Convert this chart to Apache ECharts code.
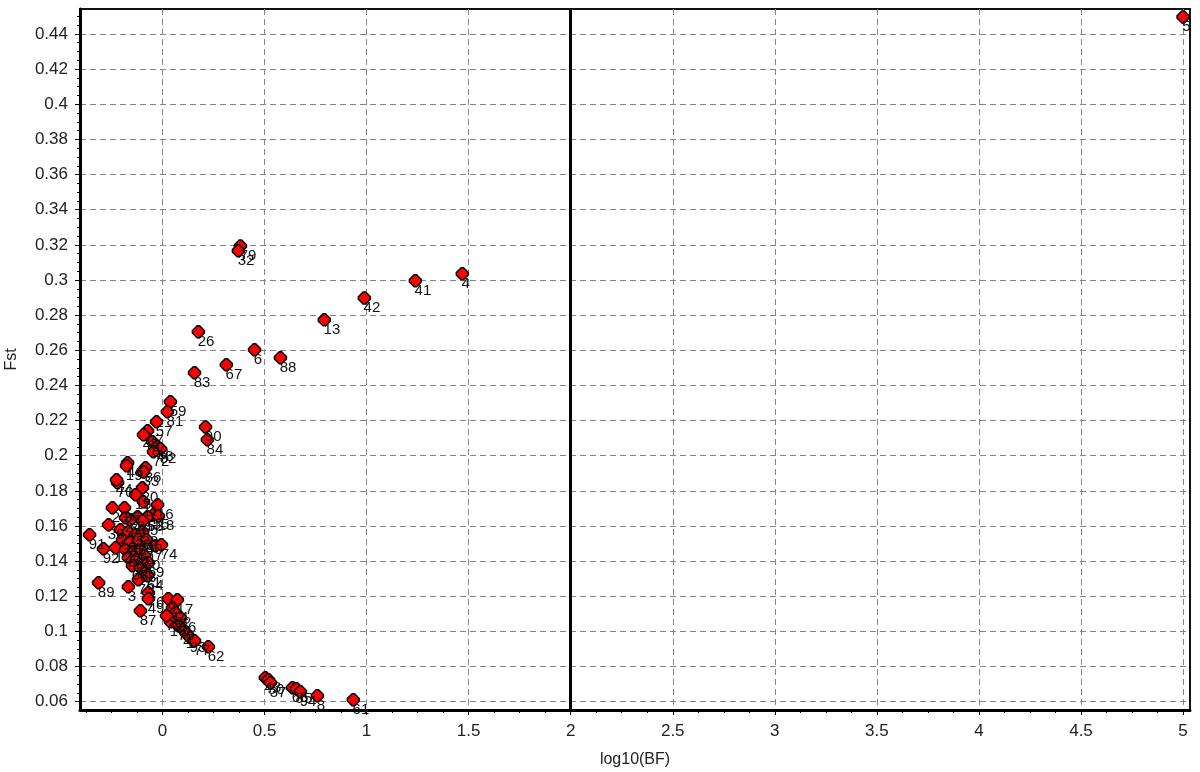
<!DOCTYPE html>
<html><head><meta charset="utf-8">
<script src="https://cdn.jsdelivr.net/npm/echarts@6/dist/echarts.min.js"></script>
<style>html,body{margin:0;padding:0;background:#fff}#c{width:1200px;height:772px}</style>
</head><body><div id="c"></div>
<script>
// Locus labels, log10(BF) and Fst
const locusLabels = ['5','79','32','4','41','42','13','26','6','88','67','83','59','81','57','27','45','80','48','82','72','90','84','46','19','86','33','70','44','20','15','11','23','36','16','55','31','53','58','18','38','24','65','91','92','12','7','74','21','25','28','29','34','35','39','40','47','50','51','52','54','60','63','68','69','71','64','73','3','89','76','49','87','9','17','14','22','10','56','78','2','1','93','77','62','43','30','37','66','85','94','8','61','75'];
const log10BF = [5.000,0.382,0.372,1.469,1.239,0.989,0.793,0.176,0.451,0.578,0.313,0.157,0.039,0.024,-0.029,-0.073,-0.093,-0.049,-0.024,-0.010,-0.044,0.211,0.220,-0.171,-0.176,-0.083,-0.093,-0.220,-0.225,-0.098,-0.132,-0.093,-0.245,-0.186,-0.024,-0.044,-0.122,-0.157,-0.073,-0.020,-0.264,-0.181,-0.098,-0.357,-0.289,-0.230,-0.034,-0.005,-0.206,-0.167,-0.132,-0.098,-0.196,-0.157,-0.118,-0.078,-0.181,-0.142,-0.108,-0.167,-0.127,-0.088,-0.147,-0.108,-0.069,-0.083,-0.073,-0.118,-0.167,-0.313,-0.069,-0.069,-0.108,0.029,0.073,0.049,0.064,0.039,0.088,0.078,0.103,0.118,0.137,0.157,0.225,0.504,0.519,0.529,0.637,0.656,0.676,0.759,0.935,0.020];
const fst = [0.4497,0.3194,0.3166,0.3035,0.2995,0.2898,0.2773,0.2705,0.2603,0.2557,0.2517,0.2472,0.2307,0.2250,0.2193,0.2142,0.2119,0.2079,0.2051,0.2039,0.2022,0.2164,0.2091,0.1960,0.1943,0.1931,0.1908,0.1846,0.1863,0.1817,0.1778,0.1738,0.1704,0.1704,0.1721,0.1664,0.1652,0.1635,0.1652,0.1658,0.1607,0.1647,0.1630,0.1550,0.1470,0.1476,0.1487,0.1493,0.1579,0.1567,0.1550,0.1567,0.1522,0.1510,0.1522,0.1522,0.1465,0.1453,0.1465,0.1419,0.1408,0.1431,0.1374,0.1362,0.1391,0.1334,0.1317,0.1294,0.1254,0.1277,0.1220,0.1186,0.1118,0.1186,0.1180,0.1135,0.1106,0.1055,0.1078,0.1032,0.1010,0.0987,0.0964,0.0947,0.0913,0.0737,0.0725,0.0708,0.0680,0.0674,0.0657,0.0634,0.0611,0.1089];
const xTickValues = [0,0.5,1,1.5,2,2.5,3,3.5,4,4.5,5];
const yTickValues = [0.06,0.08,0.1,0.12,0.14,0.16,0.18,0.2,0.22,0.24,0.26,0.28,0.3,0.32,0.34,0.36,0.38,0.4,0.42,0.44];
const thresholdBF = 2;

const xMinor = []; for (let k = -3; k <= 40; k++) xMinor.push(+(k * 0.125).toFixed(3));
const yMinor = []; for (let k = 11; k <= 90; k++) yMinor.push(+(k * 0.005).toFixed(3));

const FONT = "'Liberation Sans', Arial, sans-serif";
const xMin = -0.404, xMax = 5.034, yMin = 0.0553, yMax = 0.4542;

const chart = echarts.init(document.getElementById('c'), null, {renderer: 'canvas'});
const points = log10BF.map((x, i) => [x, fst[i]]);
chart.setOption({
  animation: false,
  backgroundColor: '#fff',
  grid: {left: 80, right: 10, top: 9, bottom: 62, containLabel: false, outerBoundsMode: 'none',
         show: true, borderColor: '#111', borderWidth: 2, backgroundColor: 'transparent'},
  xAxis: [{
    type: 'value', min: xMin, max: xMax, position: 'bottom',
    name: 'log10(BF)', nameLocation: 'middle', nameGap: 42,
    nameTextStyle: {color: '#222', fontSize: 16, fontFamily: FONT},
    axisLine: {show: true, onZero: false, lineStyle: {color: '#000', width: 3}},
    axisTick: {show: true, customValues: xTickValues, length: 5, lineStyle: {color: '#000', width: 1}},
    axisLabel: {customValues: xTickValues, color: '#222', fontSize: 17, fontFamily: FONT, margin: 13},
    splitLine: {show: true, lineStyle: {color: '#858585', width: 1, type: [6, 4]}}
  }, {
    type: 'value', min: xMin, max: xMax, position: 'bottom',
    axisLine: {show: false, onZero: false},
    axisTick: {show: true, customValues: xMinor, length: 3, lineStyle: {color: '#000', width: 1}},
    axisLabel: {show: false}, splitLine: {show: false}
  }],
  yAxis: [{
    type: 'value', min: yMin, max: yMax, position: 'left',
    name: 'Fst', nameLocation: 'middle', nameGap: 60, nameRotate: 90,
    nameTextStyle: {color: '#222', fontSize: 16, fontFamily: FONT},
    axisLine: {show: true, onZero: false, lineStyle: {color: '#000', width: 3}},
    axisTick: {show: true, customValues: yTickValues, length: 5, lineStyle: {color: '#000', width: 1}},
    axisLabel: {customValues: yTickValues, color: '#222', fontSize: 17, fontFamily: FONT, margin: 12},
    splitLine: {show: true, lineStyle: {color: '#858585', width: 1, type: [6, 4]}}
  }, {
    type: 'value', min: yMin, max: yMax, position: 'left',
    axisLine: {show: false, onZero: false},
    axisTick: {show: true, customValues: yMinor, length: 3, lineStyle: {color: '#000', width: 1}},
    axisLabel: {show: false}, splitLine: {show: false}
  }],
  series: [{
    type: 'scatter', xAxisIndex: 0, yAxisIndex: 0,
    data: points,
    symbol: 'path://M4,0 L6,0 L10,4 L10,6 L6,10 L4,10 L0,6 L0,4 Z',
    symbolSize: 12,
    itemStyle: {color: '#ff0000', borderColor: '#000', borderWidth: 1.5, opacity: 1},
    label: {
      show: true, position: [6, 9], align: 'left', verticalAlign: 'top',
      formatter: p => locusLabels[p.dataIndex],
      color: '#111', fontSize: 15, fontFamily: FONT
    },
    emphasis: {disabled: true},
    markLine: {
      silent: true, symbol: ['none', 'none'], animation: false,
      label: {show: false},
      lineStyle: {color: '#000', width: 3, type: 'solid'},
      data: [{xAxis: thresholdBF}]
    }
  }]
});
</script>
</body></html>
